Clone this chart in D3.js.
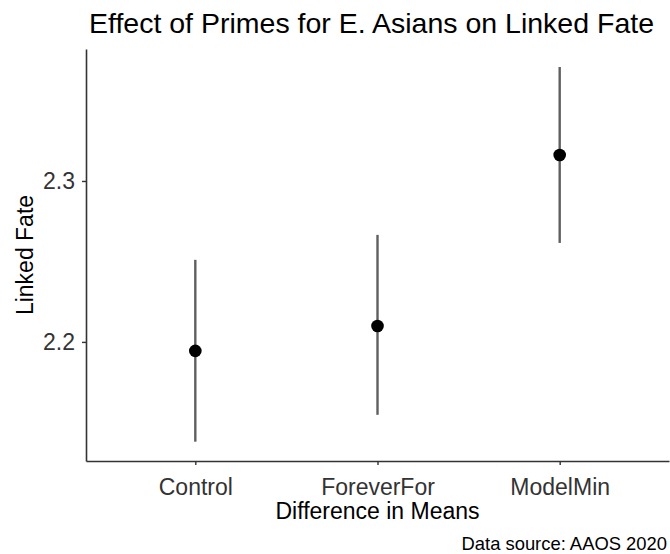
<!DOCTYPE html>
<html>
<head>
<meta charset="utf-8">
<script src="https://cdn.jsdelivr.net/npm/d3@7"></script>
<style>
  body { margin: 0; background: #fff; }
  svg { font-family: "Liberation Sans", Arial, sans-serif; }
  .axis path, .axis line { stroke: #333; }
  .axis text { fill: #333; }
</style>
</head>
<body>
<svg width="670" height="554"></svg>
<script>
// values
var groups = ["Control", "ForeverFor", "ModelMin"];
var means = [2.1944, 2.2099, 2.3161];
var lower = [2.138, 2.1547, 2.2615];
var upper = [2.251, 2.2665, 2.3708];
var yTicks = [2.2, 2.3];

var data = groups.map(function(g, i) {
  return {group: g, mean: means[i], lo: lower[i], hi: upper[i]};
});

var svg = d3.select("svg"),
    margin = {top: 49, right: 1, bottom: 93, left: 86},
    width = +svg.attr("width") - margin.left - margin.right,
    height = +svg.attr("height") - margin.top - margin.bottom,
    g = svg.append("g").attr("transform", "translate(" + margin.left + "," + margin.top + ")");

// ggplot style discrete scale: 0.6 units padding on each side
var x = d3.scalePoint().domain(groups).range([0, width]).padding(0.6);
var y = d3.scaleLinear().domain([2.126, 2.382]).range([height, 0]);

// axes
var xAxis = g.append("g")
    .attr("class", "axis")
    .attr("transform", "translate(0," + height + ")")
    .call(d3.axisBottom(x).tickSize(4).tickPadding(14).tickSizeOuter(0));
xAxis.selectAll("text").style("font-size", "23px");

var yAxis = g.append("g")
    .attr("class", "axis")
    .call(d3.axisLeft(y).tickValues(yTicks).tickFormat(d3.format(".1f")).tickSize(4).tickPadding(7).tickSizeOuter(0));
yAxis.selectAll("text").style("font-size", "23px");

g.selectAll(".axis path").attr("stroke-width", 1.6);
g.selectAll(".axis line").attr("stroke-width", 1.4);

// error bars
g.selectAll(".bar")
  .data(data)
  .enter()
    .append("line")
    .attr("class", "bar")
    .attr("x1", function(d) { return x(d.group); })
    .attr("x2", function(d) { return x(d.group); })
    .attr("y1", function(d) { return y(d.lo); })
    .attr("y2", function(d) { return y(d.hi); })
    .attr("stroke", "#5f5f5f")
    .attr("stroke-width", 2.4);

// means
g.selectAll(".dot")
  .data(data)
  .enter()
    .append("circle")
    .attr("class", "dot")
    .attr("cx", function(d) { return x(d.group); })
    .attr("cy", function(d) { return y(d.mean); })
    .attr("r", 6.3)
    .attr("fill", "#000");

// title, axis titles, caption
svg.append("text")
    .attr("x", 89)
    .attr("y", 33)
    .style("font-size", "28.5px")
    .attr("fill", "#000")
    .text("Effect of Primes for E. Asians on Linked Fate");

svg.append("text")
    .attr("x", margin.left + width / 2)
    .attr("y", 519)
    .attr("text-anchor", "middle")
    .style("font-size", "23px")
    .attr("fill", "#000")
    .text("Difference in Means");

svg.append("text")
    .attr("transform", "translate(33," + (margin.top + height / 2) + ") rotate(-90)")
    .attr("text-anchor", "middle")
    .style("font-size", "23px")
    .attr("fill", "#000")
    .text("Linked Fate");

svg.append("text")
    .attr("x", 667)
    .attr("y", 550)
    .attr("text-anchor", "end")
    .style("font-size", "18.4px")
    .attr("fill", "#000")
    .text("Data source: AAOS 2020");
</script>
</body>
</html>
